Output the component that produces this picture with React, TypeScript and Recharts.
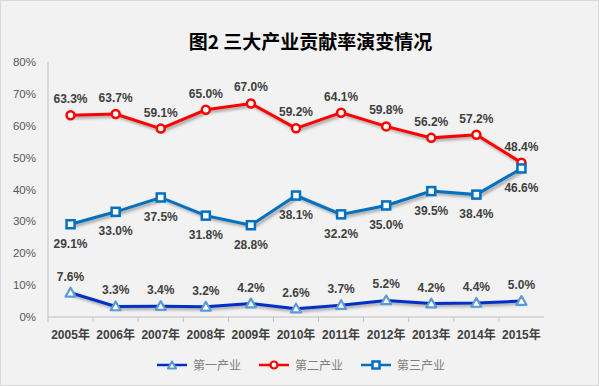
import React from 'react'
import { LineChart, Line, XAxis, YAxis, LabelList } from 'recharts'

const years = ['2005年', '2006年', '2007年', '2008年', '2009年', '2010年', '2011年', '2012年', '2013年', '2014年', '2015年']
const primary = [7.6, 3.3, 3.4, 3.2, 4.2, 2.6, 3.7, 5.2, 4.2, 4.4, 5.0]
const secondary = [63.3, 63.7, 59.1, 65.0, 67.0, 59.2, 64.1, 59.8, 56.2, 57.2, 48.4]
const tertiary = [29.1, 33.0, 37.5, 31.8, 28.8, 38.1, 32.2, 35.0, 39.5, 38.4, 46.6]
const yTicks = [0, 10, 20, 30, 40, 50, 60, 70, 80]
const seriesNames = ['第一产业', '第二产业', '第三产业']

const data = years.map((y, i) => ({
  year: y, p: primary[i], s: secondary[i], t: tertiary[i],
}))

const W = 599
const H = 386
const PLOT_LEFT = 48
const PLOT_RIGHT = 544
const BAND = (PLOT_RIGHT - PLOT_LEFT) / years.length

const NUM_FONT = '"Liberation Sans", "Noto Sans CJK SC", Arial, sans-serif'
const pct = (v: any) => `${Number(v).toFixed(1)}%`

const Tri = ({ cx, cy, size = 5 }: any) => (
  <polygon
    points={`${cx},${cy - size} ${cx - size},${cy + size * 0.75} ${cx + size},${cy + size * 0.75}`}
    fill='#ffffff' stroke='#5b9bd5' strokeWidth={2.2} strokeLinejoin='round' />
)
const Sq = ({ cx, cy, size = 4 }: any) => (
  <rect x={cx - size} y={cy - size} width={size * 2} height={size * 2}
    fill='#ffffff' stroke='#0070c0' strokeWidth={2.5} />
)

const XTick = ({ x, y, payload }: any) => (
  <g>
    <line x1={x - BAND / 2} x2={x - BAND / 2} y1={y - 8} y2={y - 3} stroke='#bfbfbf' />
    <text x={x} y={y + 14} textAnchor='middle' fontSize={12} fontWeight='bold'
      fill='#404040' fontFamily={NUM_FONT}>{payload.value}</text>
  </g>
)

function LegendItem({ color, label, marker }: any) {
  return (
    <div style={{ display: 'flex', alignItems: 'center', marginRight: 18 }}>
      <svg width={30} height={12} style={{ marginRight: 6 }}>
        <line x1={0} x2={30} y1={6} y2={6} stroke={color} strokeWidth={2.5} />
        {marker === 'tri' && <Tri cx={15} cy={6.5} size={4} />}
        {marker === 'circ' && <circle cx={15} cy={6} r={3.5} fill='#fff' stroke='#ff0000' strokeWidth={2.2} />}
        {marker === 'sq' && <Sq cx={15} cy={6} size={3.5} />}
      </svg>
      <span style={{ fontSize: 12, color: '#7f7f7f', fontFamily: '"Noto Sans CJK SC", sans-serif' }}>{label}</span>
    </div>
  )
}

export default function App() {
  return (
    <div style={{
      position: 'absolute', left: 0, top: 0, width: W, height: H, boxSizing: 'border-box',
      background: '#f2f2f2', border: '1px solid #d9d9d9',
    }}>
      <style>{`.recharts-line-curve { filter: drop-shadow(2px 2px 1.5px rgba(0,0,0,0.35)); }`}</style>
      <div style={{
        position: 'absolute', left: 0, top: 26, width: W, textAlign: 'center',
        fontSize: 19, fontWeight: 'bold', color: '#000', fontFamily: '"Noto Sans CJK SC", serif',
        paddingLeft: 20, boxSizing: 'border-box',
      }}>图2 三大产业贡献率演变情况</div>
      <div style={{ position: 'absolute', left: -1, top: -1 }}>
        <LineChart width={W} height={H} data={data}
          margin={{ top: 62, right: W - PLOT_RIGHT, bottom: 39, left: 8 }}>
          <XAxis dataKey='year' scale='band' tickLine={false} height={30}
            axisLine={{ stroke: '#bfbfbf' }} tick={<XTick />} interval={0} />
          <YAxis width={40} domain={[0, 80]} ticks={yTicks} tickFormatter={(v) => `${v}%`}
            tickLine={false} tickSize={0} tickMargin={12} axisLine={{ stroke: '#bfbfbf' }}
            tick={{ fill: '#595959', fontSize: 11.5, fontFamily: NUM_FONT }} />
          <Line dataKey='p' name={seriesNames[0]} stroke='#0030c8' strokeWidth={3}
            dot={(props: any) => <Tri key={props.index} cx={props.cx} cy={props.cy} />}
            isAnimationActive={false}>
            <LabelList dataKey='p' position='top' offset={12} formatter={pct}
              style={{ fill: '#404040', fontSize: 12, fontWeight: 'bold', fontFamily: NUM_FONT }} />
          </Line>
          <Line dataKey='s' name={seriesNames[1]} stroke='#ff0000' strokeWidth={3}
            dot={{ r: 4, fill: '#ffffff', stroke: '#ff0000', strokeWidth: 2.5 }}
            isAnimationActive={false}>
            <LabelList dataKey='s' position='top' offset={12} formatter={pct}
              style={{ fill: '#404040', fontSize: 12, fontWeight: 'bold', fontFamily: NUM_FONT }} />
          </Line>
          <Line dataKey='t' name={seriesNames[2]} stroke='#0070c0' strokeWidth={3}
            dot={(props: any) => <Sq key={props.index} cx={props.cx} cy={props.cy} />}
            isAnimationActive={false}>
            <LabelList dataKey='t' position='bottom' offset={15} formatter={pct}
              style={{ fill: '#404040', fontSize: 12, fontWeight: 'bold', fontFamily: NUM_FONT }} />
          </Line>
        </LineChart>
      </div>
      <div style={{ position: 'absolute', left: 156, top: 355, display: 'flex' }}>
        <LegendItem color='#0030c8' label={seriesNames[0]} marker='tri' />
        <LegendItem color='#ff0000' label={seriesNames[1]} marker='circ' />
        <LegendItem color='#0070c0' label={seriesNames[2]} marker='sq' />
      </div>
    </div>
  )
}
